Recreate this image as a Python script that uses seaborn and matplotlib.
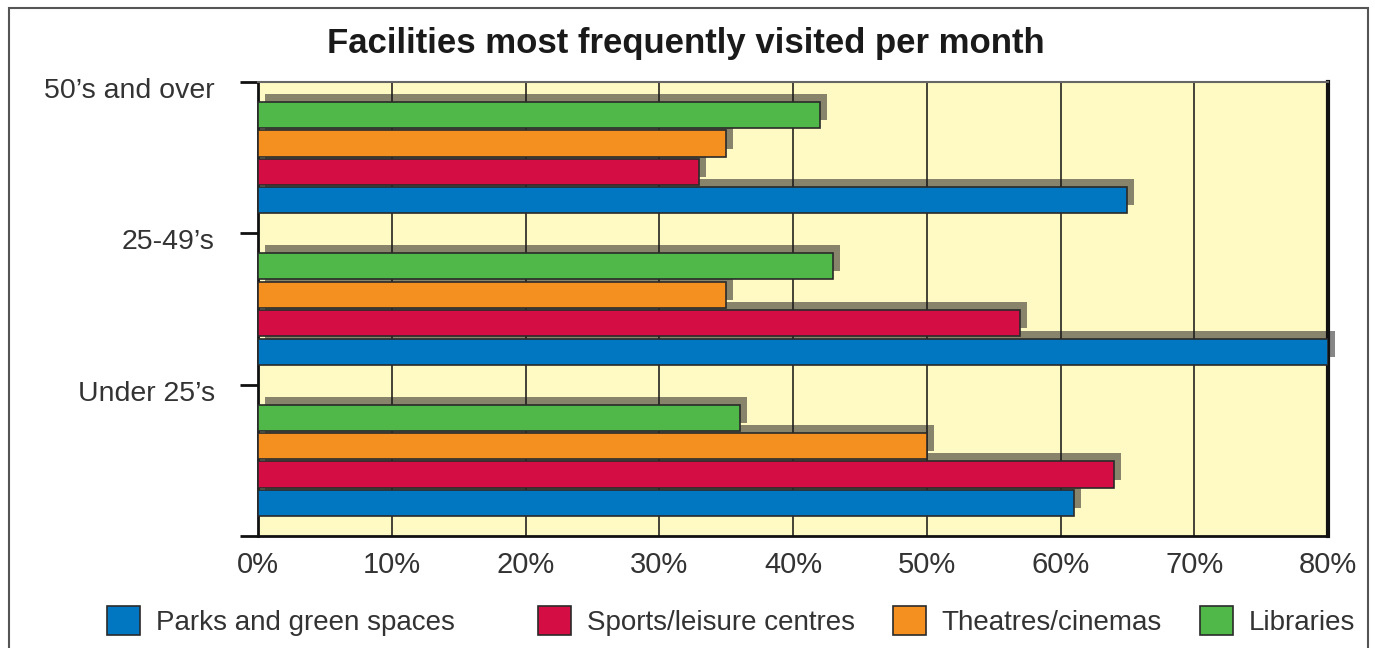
import pandas as pd
import matplotlib
matplotlib.use("Agg")
import matplotlib.pyplot as plt
from matplotlib.patches import Patch, Rectangle
from matplotlib.transforms import ScaledTranslation
import seaborn as sns

# --- data (percent of people) ---
age_groups = ["50\u2019s and over", "25-49\u2019s", "Under 25\u2019s"]
facilities = ["Libraries", "Theatres/cinemas", "Sports/leisure centres", "Parks and green spaces"]
libraries = [42, 43, 36]
theatres = [35, 35, 50]
sports = [33, 57, 64]
parks = [65, 80, 61]
x_ticks = [0, 10, 20, 30, 40, 50, 60, 70, 80]
legend_order = ["Parks and green spaces", "Sports/leisure centres", "Theatres/cinemas", "Libraries"]

palette = {
    "Parks and green spaces": "#0077C0",
    "Sports/leisure centres": "#D40E45",
    "Theatres/cinemas": "#F39020",
    "Libraries": "#50B848",
}

rows = []
for fac, vals in zip(facilities, [libraries, theatres, sports, parks]):
    for grp, v in zip(age_groups, vals):
        rows.append({"group": grp, "facility": fac, "value": v})
df = pd.DataFrame(rows)

sns.set_theme(style="white")
plt.rcParams["font.family"] = ["Liberation Sans", "DejaVu Sans"]

fig = plt.figure(figsize=(13.75, 6.48), dpi=100)
ax = fig.add_axes([258 / 1375, 1 - 536 / 648, (1328 - 258) / 1375, (536 - 82) / 648])

sns.barplot(
    data=df, x="value", y="group", hue="facility",
    order=age_groups, hue_order=facilities, palette=palette,
    orient="h", width=0.75, gap=0.08, errorbar=None, saturation=1,
    edgecolor="#2a2a2a", linewidth=1.2, legend=False, ax=ax,
)

# drop shadows behind each bar (offset up/right in pixels)
shift = ScaledTranslation(7 / 100, 8 / 100, fig.dpi_scale_trans)
bars = list(ax.patches)
for b in bars:
    b.set_zorder(3)
    sh = Rectangle(b.get_xy(), b.get_width(), b.get_height(),
                   transform=ax.transData + shift, facecolor="#1a1a1a",
                   alpha=0.52, edgecolor="none", zorder=2, clip_on=False)
    ax.add_patch(sh)

ax.set_facecolor("#FFF9C4")
ax.set_xlim(0, 80)
ax.set_ylim(2.5, -0.5)
ax.set_xticks(x_ticks)
ax.set_xticklabels([f"{v}%" for v in x_ticks], fontsize=21, color="#333333")
ax.set_yticks([-0.5, 0.5, 1.5, 2.5])
ax.set_yticklabels(age_groups + [""], fontsize=20.5, color="#333333")
ax.set_xlabel("")
ax.set_ylabel("")

ax.xaxis.grid(True, color="#111111", linewidth=1.1)
ax.yaxis.grid(False)
ax.set_axisbelow(True)
ax.tick_params(axis="x", length=0, pad=11)
ax.tick_params(axis="y", length=13, width=2, color="#111111", direction="out", pad=18, left=True)
# group labels sit a little below their tick
for lab in ax.get_yticklabels():
    lab.set_transform(lab.get_transform() + ScaledTranslation(0, -6 / 100, fig.dpi_scale_trans))

for side in ["left", "bottom"]:
    ax.spines[side].set_color("#111111")
    ax.spines[side].set_linewidth(2)
ax.spines["right"].set_color("#111111")
ax.spines["right"].set_linewidth(3)
ax.spines["top"].set_color("#666666")
ax.spines["top"].set_linewidth(1.5)

fig.text(686 / 1375, 1 - 43 / 648, "Facilities most frequently visited per month",
         ha="center", va="center", fontsize=25, fontweight="bold", color="#1a1a1a")

# legend entries spaced like the original (uneven gaps)
leg_x = [107, 538, 893, 1200]
for name, lx in zip(legend_order, leg_x):
    h = Patch(facecolor=palette[name], edgecolor="#2a2a2a", linewidth=1.2)
    fig.legend([h], [name], loc="center left", bbox_to_anchor=(lx / 1375, 1 - 621 / 648),
               frameon=False, fontsize=20, handlelength=1.2, handleheight=1.25,
               handletextpad=0.55, borderpad=0, borderaxespad=0, labelcolor="#333333")

# outer frame of the figure panel
fig.patches.append(Rectangle((9 / 1375, -0.05), (1368 - 9) / 1375, 1.05 - 8 / 648,
                             transform=fig.transFigure, fill=False,
                             edgecolor="#555555", linewidth=1.5))

fig.savefig("out.png", dpi=100)
